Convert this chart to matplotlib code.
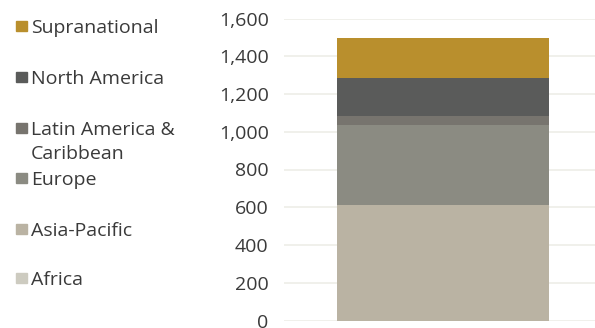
import matplotlib
matplotlib.use("Agg")
import matplotlib.pyplot as plt
from matplotlib.patches import Rectangle

# Regions, bottom of the stack first
regions = ["Africa", "Asia-Pacific", "Europe", "Latin America &\nCaribbean",
           "North America", "Supranational"]
values = [0, 612, 424, 48, 202, 212]
colors = ["#CDCBC0", "#BAB3A3", "#8B8B82", "#77746E", "#5A5B5A", "#B98F2D"]
yticks = [0, 200, 400, 600, 800, 1000, 1200, 1400, 1600]

plt.rcParams["font.family"] = ["Open Sans", "DejaVu Sans"]
text_color = "#3A3A3A"

W, H = 595, 328
fig = plt.figure(figsize=(W / 100, H / 100), dpi=100)

# axes placed in pixel coordinates
ax_left, ax_right, ax_top, ax_bottom = 284, 595, 18.5, 320.5
ax = fig.add_axes([ax_left / W, 1 - ax_bottom / H,
                   (ax_right - ax_left) / W, (ax_bottom - ax_top) / H])

bar_x = 443 - ax_left
bar_w = 212
bottom = 0
for val, col in zip(values, colors):
    ax.bar(bar_x, val, width=bar_w, bottom=bottom, color=col, zorder=2)
    bottom += val

ax.set_xlim(0, ax_right - ax_left)
ax.set_ylim(0, 1600)
ax.set_yticks(yticks)
ax.set_yticklabels([f"{v:,}" for v in yticks], fontsize=14, color=text_color)
ax.tick_params(axis="y", length=0, pad=11)
ax.set_xticks([])
ax.grid(axis="y", color="#EEEEE8", linewidth=1.2, zorder=0)
for s in ax.spines.values():
    s.set_visible(False)
ax.patch.set_alpha(0)

# legend, top entry first
legend_y = [26, 77, 128, 178, 229, 278]
for name, col, yc in zip(reversed(regions), reversed(colors), legend_y):
    fig.patches.append(Rectangle((16 / W, 1 - (yc + 5.3) / H), 10.5 / W, 10.6 / H,
                                 transform=fig.transFigure, color=col))
    lines = name.split("\n")
    for i, line in enumerate(lines):
        fig.text(31 / W, 1 - (yc + 7 + 24 * i) / H, line, fontsize=14,
                 color=text_color, va="baseline", ha="left")

fig.savefig("out.png", dpi=100)
